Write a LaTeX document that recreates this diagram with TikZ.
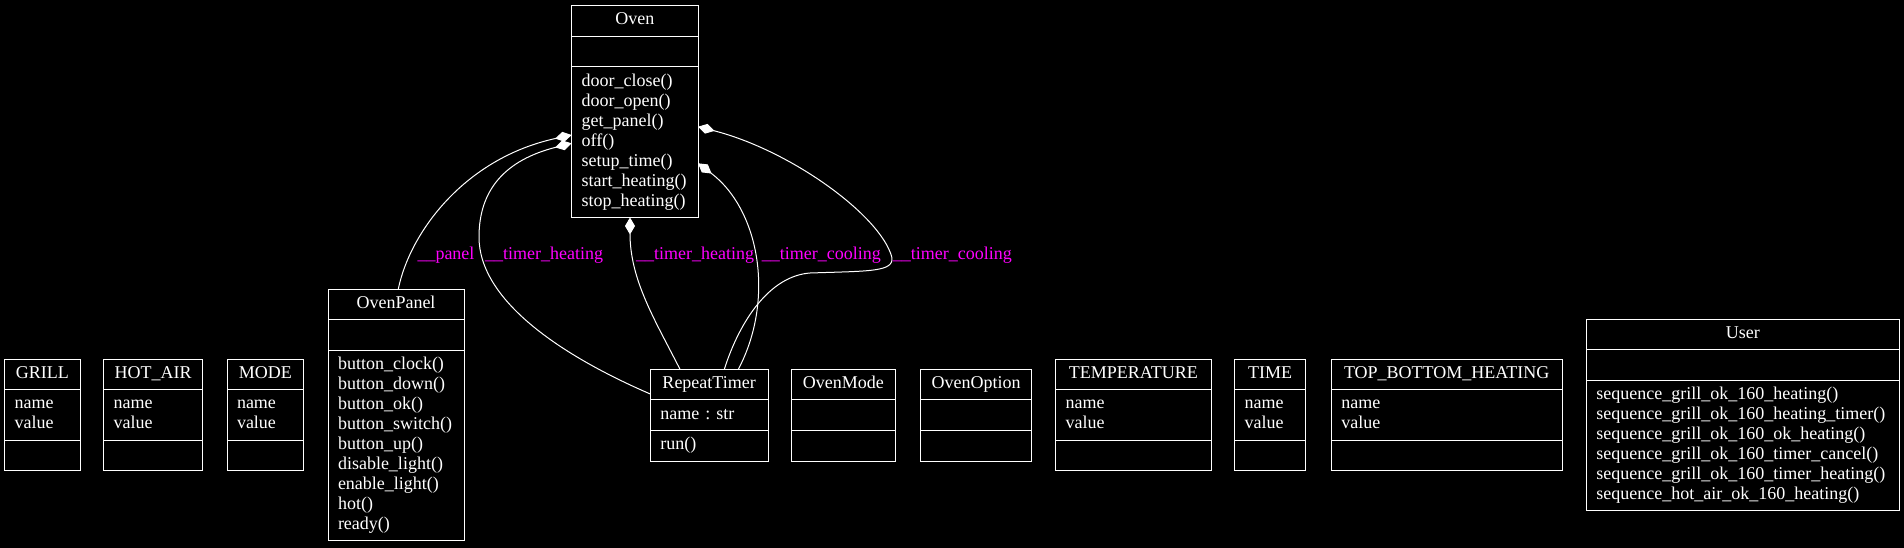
\documentclass[tikz,border=0pt]{standalone}
\usepackage{fontspec}
\setmainfont{Liberation Serif}
\usepackage{tikz}
\usetikzlibrary{arrows.meta,positioning}
\definecolor{edgelabel}{RGB}{255,0,255}
\frenchspacing

% one UML class = title, attributes and methods stacked
\newcommand{\umlclass}[7]{% name, left, top, width, title, attributes, methods
  \node[clstitle, text width=#4pt-20pt, anchor=north west] (#1) at (#2,#3) {#5};
  \node[clsbody, text width=#4pt-20pt, below=0pt of #1] (#1-a) {#6};
  \node[clsbody, text width=#4pt-20pt, below=0pt of #1-a] (#1-m) {#7};
}

\begin{document}
\begin{tikzpicture}[
  x=1pt, y=-1pt,
  cls/.style={draw=white, line width=1pt, text=white, inner xsep=10pt,
              inner ysep=5.3pt, outer sep=0pt, font=\fontsize{18}{20}\selectfont,
              execute at begin node=\strut, execute at end node=\strut},
  clstitle/.style={cls, align=center},
  clsbody/.style={cls, align=left},
  comp/.style={draw=white, line width=1pt, arrows={Diamond[length=17pt,width=10pt]-}},
  lbl/.style={text=edgelabel, font=\fontsize{18}{20}\selectfont, inner sep=0pt,
              anchor=base west}
]
\fill[black] (0,0) rectangle (1904,548);

\umlclass{oven}{571.7}{5.7}{126.3}{Oven}{}
  {door\_close()\\door\_open()\\get\_panel()\\off()\\setup\_time()\\start\_heating()\\stop\_heating()}
\umlclass{grill}{4.7}{359}{75.3}{GRILL}{name\\value}{}
\umlclass{hot-air}{103.7}{359}{99}{HOT\_AIR}{name\\value}{}
\umlclass{mode}{227}{359}{76.7}{MODE}{name\\value}{}
\umlclass{panel}{328}{289}{136}{OvenPanel}{}
  {button\_clock()\\button\_down()\\button\_ok()\\button\_switch()\\button\_up()\\disable\_light()\\enable\_light()\\hot()\\ready()}
\umlclass{timer}{650.3}{369.3}{117.7}{RepeatTimer}{name : str}{run()}
\umlclass{oven-mode}{791.5}{369.3}{103.8}{OvenMode}{}{}
\umlclass{oven-option}{920.5}{369.3}{111.1}{OvenOption}{}{}
\umlclass{temperature}{1055.5}{359}{155.7}{TEMPERATURE}{name\\value}{}
\umlclass{time}{1234.6}{359}{71.1}{TIME}{name\\value}{}
\umlclass{top-bottom}{1331.4}{359}{230.6}{TOP\_BOTTOM\_HEATING}{name\\value}{}
\umlclass{user}{1586.4}{319}{313.1}{User}{}
  {sequence\_grill\_ok\_160\_heating()\\sequence\_grill\_ok\_160\_heating\_timer()\\sequence\_grill\_ok\_160\_ok\_heating()\\sequence\_grill\_ok\_160\_timer\_cancel()\\sequence\_grill\_ok\_160\_timer\_heating()\\sequence\_hot\_air\_ok\_160\_heating()}

% composition edges
\draw[comp] (oven-m.west |- 0,135) .. controls (465,158) and (410,232) .. (panel.north -| 398.3,0);
\draw[comp] (oven-m.west |- 0,143.3) .. controls (505,160) and (479,190) .. (479,237)
  .. controls (479,300) and (560,355) .. (timer.west |- 0,394);
\draw[comp] (oven-m.south -| 630,0) .. controls (630,280) and (655,320) .. (timer.north -| 680,0);
\draw[comp] (oven-m.east |- 0,163.3) .. controls (760,210) and (775,300) .. (timer.north -| 738.3,0);
\draw[comp] (oven-m.east |- 0,126.7) .. controls (790,150) and (880,215) .. (891.7,256.7)
  .. controls (895,272) and (870,271) .. (810,273)
  .. controls (770,276) and (740,320) .. (timer.north -| 724.3,0);

\node[lbl] (l-panel) at (417.3,260) {\_\_panel};
\node[lbl] (l-heating1) at (485,260) {\_\_timer\_heating};
\node[lbl] (l-heating2) at (636,260) {\_\_timer\_heating};
\node[lbl] (l-cooling1) at (761.7,260) {\_\_timer\_cooling};
\node[lbl] (l-cooling2) at (892.7,260) {\_\_timer\_cooling};
\end{tikzpicture}
\end{document}
